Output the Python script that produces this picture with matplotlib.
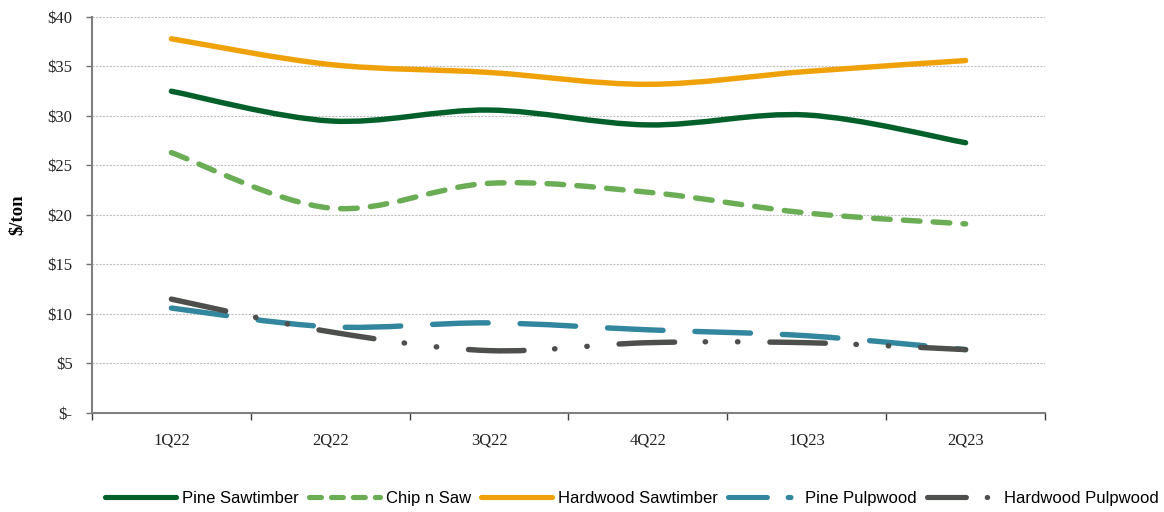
import numpy as np
import matplotlib.pyplot as plt
from matplotlib.path import Path
from matplotlib.patches import PathPatch
from matplotlib.lines import Line2D

plt.rcParams['lines.scale_dashes'] = False

quarters = ['1Q22', '2Q22', '3Q22', '4Q22', '1Q23', '2Q23']

pine_saw = [32.5, 29.5, 30.6, 29.1, 30.1, 27.3]
chip_n_saw = [26.3, 20.7, 23.2, 22.3, 20.2, 19.1]
hardwood_saw = [37.8, 35.2, 34.4, 33.2, 34.5, 35.6]
pine_pulp = [10.6, 8.7, 9.1, 8.4, 7.8, 6.4]
hardwood_pulp = [11.5, 8.2, 6.3, 7.1, 7.1, 6.4]

# name, values, colour, dash on the chart, dash in the legend
series = [
    ('Pine Sawtimber', pine_saw, '#03602B', 'solid', 'solid'),
    ('Chip n Saw', chip_n_saw, '#6AAD55', (0, (12, 9.5)), (0, (8.6, 7.2))),
    ('Hardwood Sawtimber', hardwood_saw, '#EFA10A', 'solid', 'solid'),
    ('Pine Pulpwood', pine_pulp, '#32869D', (0, (40, 23)), (0, (28, 15, 2, 20))),
    ('Hardwood Pulpwood', hardwood_pulp, '#4D4F4C', (0, (40, 22, 0.3, 23, 0.3, 23)),
     (0, (28, 15, 0.3, 30))),
]

LW = 3.9


def smooth_path(x, y):
    # excel-style smoothed line: cubic bezier through every point
    p = np.column_stack([x, y]).astype(float)
    n = len(p)
    verts = [p[0]]
    codes = [Path.MOVETO]
    for i in range(n - 1):
        p0 = p[i - 1] if i > 0 else p[i]
        p3 = p[i + 2] if i + 2 < n else p[i + 1]
        c1 = p[i] + (p[i + 1] - p0) / 6.0
        c2 = p[i + 1] - (p3 - p[i]) / 6.0
        verts += [c1, c2, p[i + 1]]
        codes += [Path.CURVE4] * 3
    return Path(verts, codes)


fig = plt.figure(figsize=(11.64, 5.12), dpi=100)
ax = fig.add_axes([0.079, 0.1934, 0.8188, 0.7734])

x = np.arange(len(quarters))
handles = []
for name, vals, color, ls, leg_ls in series:
    patch = PathPatch(smooth_path(x, vals), fill=False, edgecolor=color,
                      lw=LW, linestyle=ls, capstyle='round', joinstyle='round')
    ax.add_patch(patch)
    handles.append(Line2D([], [], color=color, lw=3.7, linestyle=leg_ls,
                          dash_capstyle='round', solid_capstyle='round', label=name))

ax.set_xlim(-0.5, len(quarters) - 0.5)
ax.set_ylim(0, 40)
ax.set_yticks(np.arange(0, 41, 5))
ax.set_yticklabels(['$-'] + ['$%d' % v for v in range(5, 41, 5)])
ax.set_xticks(x)
ax.set_xticklabels(quarters)
ax.set_xticks(np.arange(-0.5, len(quarters)), minor=True)
ax.tick_params(axis='x', which='major', length=0, pad=14)
ax.tick_params(axis='x', which='minor', length=5, width=1, color='#404040', direction='out')
ax.tick_params(axis='y', length=4, width=1, color='#707070', pad=10)

for lab in ax.get_xticklabels() + ax.get_yticklabels():
    lab.set_fontfamily('Liberation Serif')
    lab.set_fontsize(12)
    lab.set_color('#222222')

ax.grid(axis='y', color='#BDBDBD', linestyle=(0, (1.5, 1)), lw=0.8)
ax.set_axisbelow(True)
for s in ['top', 'right']:
    ax.spines[s].set_visible(False)
for s in ['left', 'bottom']:
    ax.spines[s].set_color('#7F7F7F')
    ax.spines[s].set_linewidth(1.5)

fig.text(0.015, 0.58, '$/ton', rotation=90, ha='center', va='center',
         family='Liberation Serif', fontweight='bold', fontsize=13.5)

fig.legend(handles=handles, loc='center', bbox_to_anchor=(0.543, 0.027), ncol=5,
           frameon=False, handlelength=4.26, handletextpad=0.36, columnspacing=0.6,
           borderpad=0, prop={'family': 'Liberation Sans', 'size': 12})

fig.savefig('out.png', dpi=100)
